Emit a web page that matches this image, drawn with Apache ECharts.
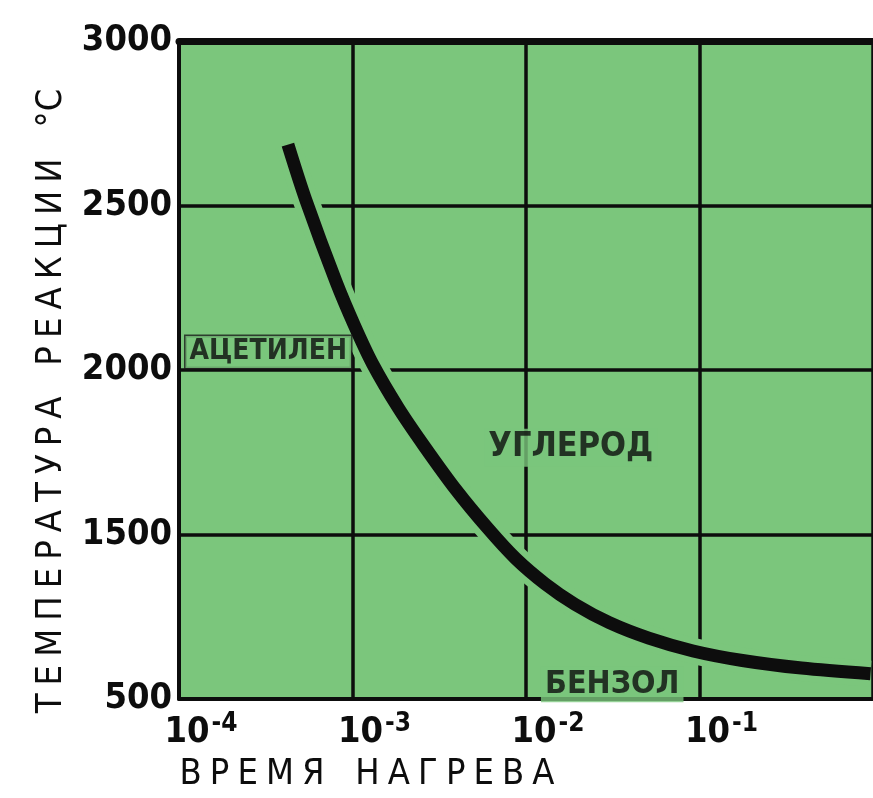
<!DOCTYPE html>
<html><head><meta charset="utf-8">
<script src="https://cdn.jsdelivr.net/npm/echarts@6/dist/echarts.min.js"></script>
<style>html,body{margin:0;padding:0;background:#fff}#c{width:873px;height:798px}</style>
</head><body><div id="c"></div>
<script>
// Curve: heating time (s, log scale) vs reaction temperature
const curveTime = [4.244e-4, 5.372e-4, 8.056e-4, 1.027e-3, 1.308e-3, 1.837e-3, 2.581e-3, 3.949e-3, 6.040e-3, 8.715e-3, 1.290e-2, 1.911e-2, 3.020e-2, 5.097e-2, 9.185e-2, 0.1767, 0.3874, 0.9678];
const curveTemp = [2685, 2518, 2267, 2135, 2018, 1885, 1770, 1636, 1518, 1427, 1350, 1288, 1232, 1185, 1146, 1117, 1094, 1077];

// Axis ticks
const yTickValues = [1000, 1500, 2000, 2500, 3000];
const yTickLabels = ['500', '1500', '2000', '2500', '3000'];
const xTickValues = [1e-4, 1e-3, 1e-2, 1e-1];
const xTickExp = ['-4', '-3', '-2', '-1'];

// Region annotations
const noteText = ['АЦЕТИЛЕН', 'УГЛЕРОД', 'БЕНЗОЛ'];
const noteTime = [3.27e-4, 0.01813, 0.0314];
const noteTemp = [2055, 1764, 1045];

const SP = '\u2005';
const spread = (s, sep) => s.split(' ').map(w => Array.from(w).join(sep)).join('   ');
const yName = spread('ТЕМПЕРАТУРА РЕАКЦИИ', SP) + '   °C';
const xName = spread('ВРЕМЯ НАГРЕВА', SP);

const GREEN = '#7bc67c';
const INK = '#0d0d0d';
const FONT = "'DejaVu Sans Condensed', 'DejaVu Sans', sans-serif";

const curve = curveTime.map((t, i) => [t, curveTemp[i]]);

const chart = echarts.init(document.getElementById('c'), null, {renderer: 'canvas'});
chart.setOption({
  animation: false,
  backgroundColor: '#ffffff',
  grid: {left: 179, top: 41, right: -10, bottom: 97, show: true, backgroundColor: GREEN, borderWidth: 0},
  xAxis: [{
    type: 'log', logBase: 10, min: 1e-4, max: 1,
    name: xName, nameLocation: 'middle', nameGap: 58,
    nameTextStyle: {fontFamily: FONT, fontSize: 36, color: INK, padding: [0, 318, 0, 0]},
    axisLine: {show: true, lineStyle: {color: INK, width: 4}},
    axisTick: {show: false},
    minorTick: {show: false},
    splitLine: {show: true, lineStyle: {color: INK, width: 3.5}},
    axisLabel: {
      show: true, margin: 12, showMinLabel: true, showMaxLabel: false,
      padding: [0, 0, 0, 44],
      formatter: function (v) {
        for (let i = 0; i < xTickValues.length; i++) {
          if (Math.abs(Math.log10(v) - Math.log10(xTickValues[i])) < 1e-6) {
            return '{b|10}{s|' + xTickExp[i] + '}';
          }
        }
        return '';
      },
      rich: {
        b: {fontFamily: FONT, fontWeight: 'bold', fontSize: 36, color: INK, verticalAlign: 'bottom', lineHeight: 40},
        s: {fontFamily: FONT, fontWeight: 'bold', fontSize: 26, color: INK, verticalAlign: 'top', lineHeight: 40, padding: [0, 0, 0, 2]}
      }
    }
  }, {
    type: 'log', logBase: 10, min: 1e-4, max: 1, position: 'top',
    axisLine: {show: true, lineStyle: {color: INK, width: 7}},
    axisTick: {show: false}, axisLabel: {show: false}, splitLine: {show: false}
  }],
  yAxis: {
    type: 'value', min: 1000, max: 3000, interval: 500,
    name: yName, nameLocation: 'middle', nameRotate: 90, nameGap: 109,
    nameTextStyle: {fontFamily: FONT, fontSize: 36, color: INK, padding: [0, 62, 0, 0]},
    axisLine: {show: true, lineStyle: {color: INK, width: 4}},
    axisTick: {show: false},
    splitLine: {show: true, lineStyle: {color: INK, width: 3.5}},
    axisLabel: {
      margin: 7, fontFamily: FONT, fontWeight: 'bold', fontSize: 36, color: INK,
      formatter: function (v) {
        const i = yTickValues.indexOf(v);
        return i >= 0 ? yTickLabels[i] : '';
      }
    }
  },
  series: [{
    type: 'line', data: curve, smooth: 0.3, showSymbol: false, silent: true, z: 3,
    lineStyle: {color: GREEN, width: 26}
  }, {
    type: 'line', data: curve, smooth: 0.3, showSymbol: false, silent: true, z: 4,
    lineStyle: {color: INK, width: 13}
  }, {
    type: 'scatter', symbolSize: 0, silent: true, z: 5,
    data: noteTime.map((t, i) => ({
      value: [t, noteTemp[i]],
      label: i === 0 ? {fontSize: 28, borderColor: '#1a1a1a', borderWidth: 1.5}
           : (i === 1 ? {fontSize: 34} : {fontSize: 32})
    })),
    label: {
      show: true, position: 'inside',
      formatter: function (p) { return noteText[p.dataIndex]; },
      fontFamily: FONT, fontWeight: 'bold', fontSize: 32, color: INK,
      backgroundColor: GREEN, padding: [3, 4, 1, 4]
    }
  }]
});
</script></body></html>
